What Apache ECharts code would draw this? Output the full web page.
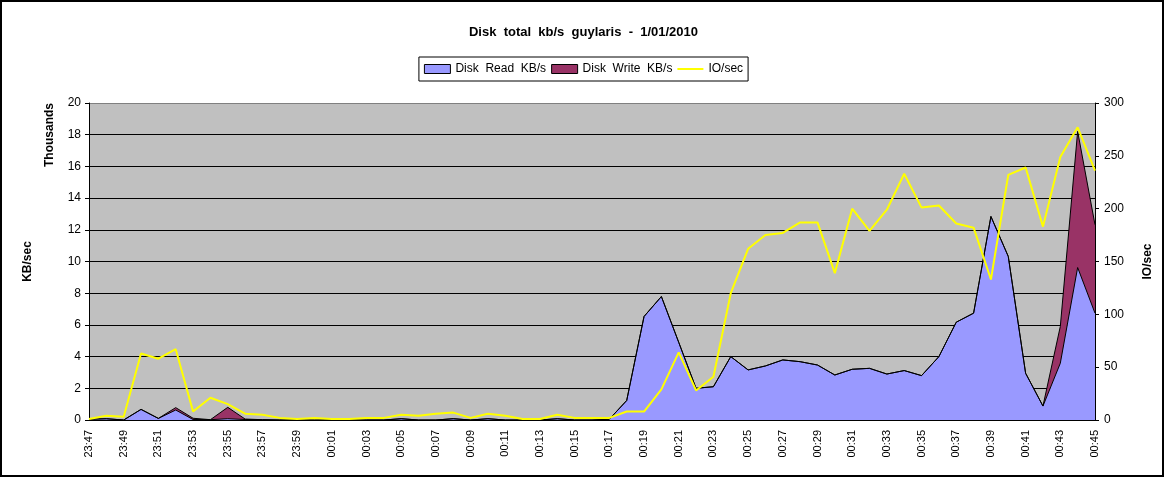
<!DOCTYPE html>
<html><head><meta charset="utf-8">
<script src="https://cdn.jsdelivr.net/npm/echarts@6/dist/echarts.min.js"></script>
<style>html,body{margin:0;padding:0;background:#fff}#c{width:1167px;height:478px}</style>
</head><body><div id="c"></div>
<script>
const categories = ['23:47','23:48','23:49','23:50','23:51','23:52','23:53','23:54','23:55','23:56','23:57','23:58','23:59',
  '00:00','00:01','00:02','00:03','00:04','00:05','00:06','00:07','00:08','00:09','00:10','00:11','00:12','00:13','00:14','00:15',
  '00:16','00:17','00:18','00:19','00:20','00:21','00:22','00:23','00:24','00:25','00:26','00:27','00:28','00:29','00:30','00:31',
  '00:32','00:33','00:34','00:35','00:36','00:37','00:38','00:39','00:40','00:41','00:42','00:43','00:44','00:45'];
const diskRead = [50,80,0,670,100,630,30,20,80,30, 20,0,0,0,0,0,0,0,80,0, 0,80,0,80,0,0,0,80,0,0,
  50,1230,6530,7790,4900,2000,2100,4000,3160,3410, 3790,3680,3470,2840,3200,3260,2900,3120,2800,4000,
  6170,6740,12840,10320,2950,880,3580,9620,6740];
const diskWrite = [0,0,0,0,0,150,80,0,720,30, 0,0,0,0,0,0,0,0,0,0, 0,0,0,0,0,0,0,0,0,0,
  0,0,0,0,0,0,0,0,0,0, 0,0,0,0,0,0,0,0,0,0, 0,0,0,0,0,0,2320,8590,5580];
const ioPerSec = [1,4,3,63,58,67,8,21,15,6, 5,2,1,2,1,1,2,2,5,4, 6,7,2,6,4,1,1,5,2,2,
  2,8,8,29,64,28,41,120,162,175, 177,187,187,139,200,179,199,233,201,203, 186,182,133,232,239,183,249,277,236];

const FONT = 'Liberation Sans, Arial, sans-serif';
const chart = echarts.init(document.getElementById('c'), null, {renderer:'canvas'});
const splitColors = ['#000','#000','#000','#000','#000','#000','#000','#000','#000','#000','#808080'];
chart.setOption({
  animation: false,
  backgroundColor: '#fff',
  title: {
    text: 'Disk  total  kb/s  guylaris  -  1/01/2010',
    left: 'center', top: 21,
    textStyle: {fontFamily: FONT, fontSize: 13, fontWeight: 'bold', color: '#000'}
  },
  legend: {
    top: 57, left: 'center',
    borderColor: '#000', borderWidth: 1, padding: [6, 5],
    itemWidth: 26, itemHeight: 9, itemGap: 5,
    formatter: n => n.replace(/ /g, '  '),
    textStyle: {fontFamily: FONT, fontSize: 12, color: '#000'},
    data: [
      {name: 'Disk Read KB/s', icon: 'rect', itemStyle: {color: '#9999FF', borderColor: '#000', borderWidth: 1}},
      {name: 'Disk Write KB/s', icon: 'rect', itemStyle: {color: '#993366', borderColor: '#000', borderWidth: 1}},
      {name: 'IO/sec', icon: 'path://M0,0 H26 V2 H0 Z', itemStyle: {color: '#FFFF00', borderWidth: 0}}
    ]
  },
  grid: {left: 89, right: 72, top: 103, bottom: 58, show: true, backgroundColor: '#C0C0C0', borderWidth: 0, containLabel: false},
  xAxis: {
    type: 'category', data: categories, boundaryGap: false,
    axisLine: {lineStyle: {color: '#000', width: 1}},
    axisTick: {show: false},
    axisLabel: {interval: 1, rotate: 90, fontFamily: FONT, fontSize: 11, color: '#000', margin: 10}
  },
  yAxis: [
    {
      type: 'value', min: 0, max: 20000, interval: 2000,
      name: 'KB/sec', nameLocation: 'middle', nameGap: 55, nameRotate: 90,
      nameTextStyle: {fontFamily: FONT, fontSize: 12, fontWeight: 'bold', color: '#000'},
      axisLine: {show: true, lineStyle: {color: '#000'}},
      axisTick: {show: true, inside: false, length: 4, lineStyle: {color: '#000'}},
      axisLabel: {formatter: v => String(v / 1000), fontFamily: FONT, fontSize: 12, color: '#000', margin: 8},
      splitLine: {show: true, lineStyle: {color: splitColors, width: 1}}
    },
    {
      type: 'value', min: 0, max: 300, interval: 50, position: 'right',
      name: 'IO/sec', nameLocation: 'middle', nameGap: 47, nameRotate: 90,
      nameTextStyle: {fontFamily: FONT, fontSize: 12, fontWeight: 'bold', color: '#000'},
      axisLine: {show: true, lineStyle: {color: '#000'}},
      axisTick: {show: true, inside: false, length: 4, lineStyle: {color: '#000'}},
      axisLabel: {fontFamily: FONT, fontSize: 12, color: '#000', margin: 9},
      splitLine: {show: false}
    }
  ],
  series: [
    {name: 'Disk Read KB/s', type: 'line', stack: 'kb', data: diskRead, symbol: 'none',
     lineStyle: {color: '#000', width: 1}, areaStyle: {color: '#9999FF', opacity: 1}, itemStyle: {color: '#9999FF'}, z: 2},
    {name: 'Disk Write KB/s', type: 'line', stack: 'kb', data: diskWrite, symbol: 'none',
     lineStyle: {color: '#000', width: 1}, areaStyle: {color: '#993366', opacity: 1}, itemStyle: {color: '#993366'}, z: 2},
    {name: 'IO/sec', type: 'line', yAxisIndex: 1, data: ioPerSec, symbol: 'none',
     lineStyle: {color: '#FFFF00', width: 2}, itemStyle: {color: '#FFFF00'}, z: 4}
  ],
  graphic: [
    {type: 'rect', shape: {x: 1, y: 1, width: 1162, height: 475}, style: {fill: 'none', stroke: '#000', lineWidth: 2}, silent: true},
    {type: 'text', x: 50, y: 135, rotation: Math.PI / 2,
     style: {text: 'Thousands', fontFamily: FONT, fontSize: 12, fontWeight: 'bold', fill: '#000', textAlign: 'center', textVerticalAlign: 'middle'}}
  ]
});
</script></body></html>
